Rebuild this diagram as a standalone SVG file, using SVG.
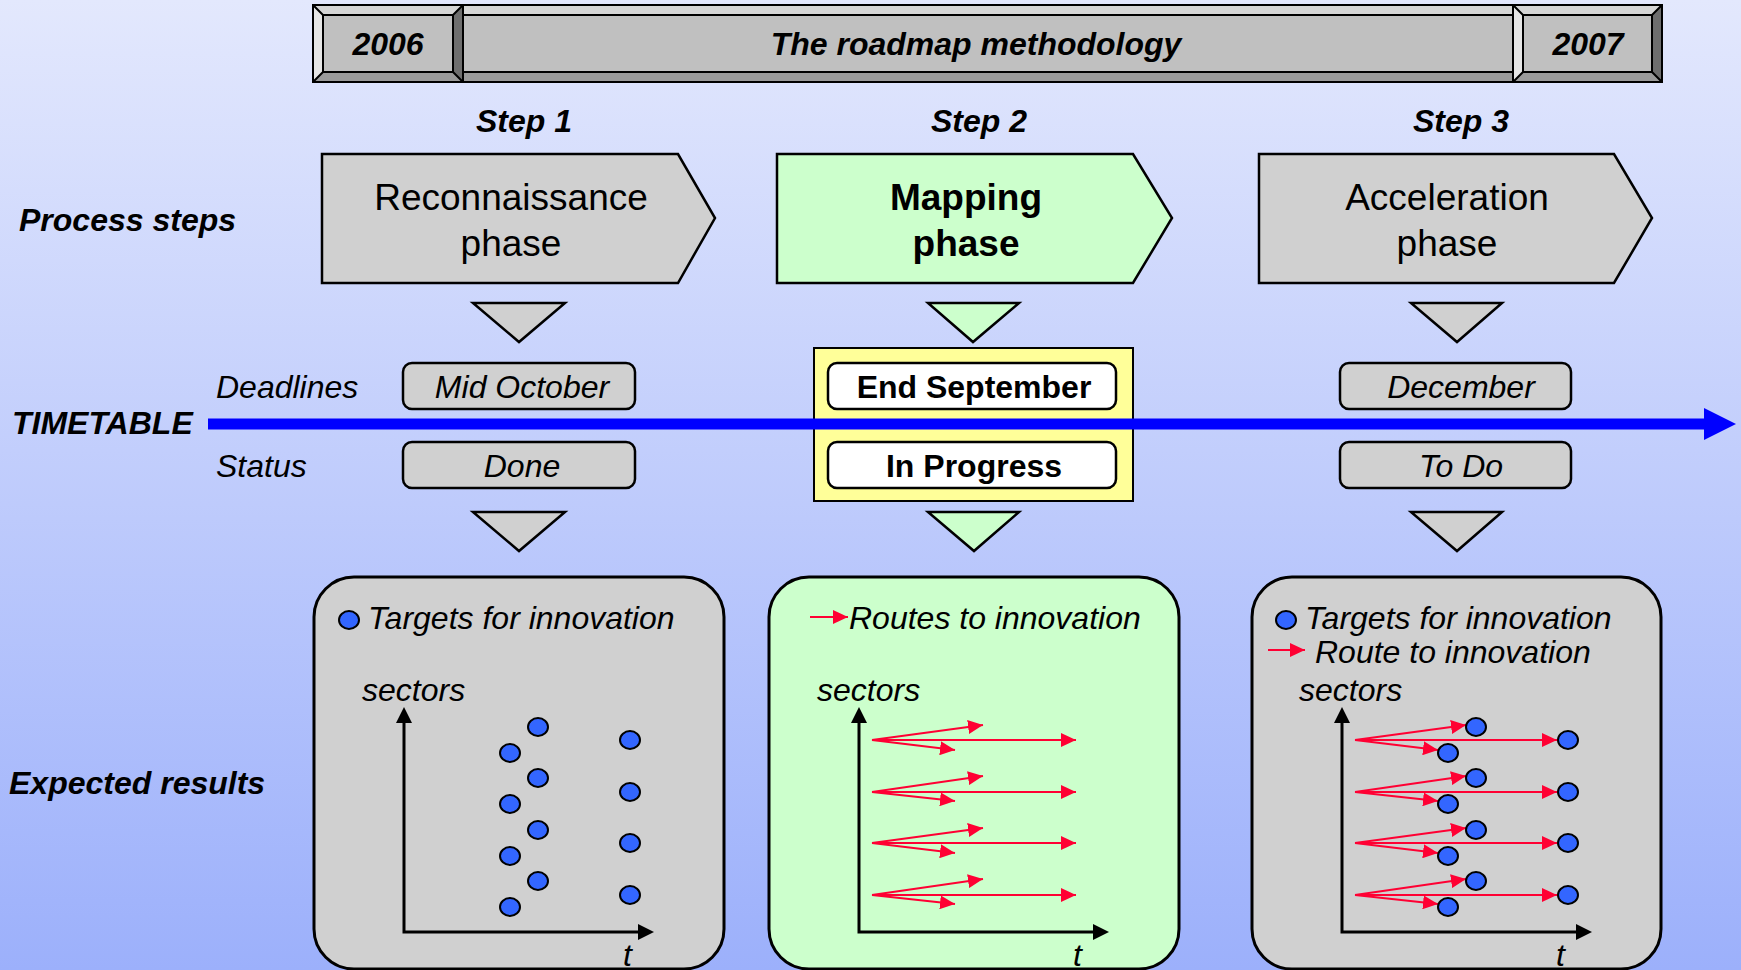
<svg xmlns="http://www.w3.org/2000/svg" width="1741" height="970" viewBox="0 0 1741 970">
<defs>
<linearGradient id="bg" x1="0" y1="0" x2="0" y2="1">
<stop offset="0" stop-color="#e3e8fd"/>
<stop offset="1" stop-color="#9cb0fb"/>
</linearGradient>
<marker id="ra" markerUnits="userSpaceOnUse" markerWidth="16" markerHeight="14" refX="15" refY="7" orient="auto">
<path d="M0,0 L15,7 L0,14 z" fill="#ff0033"/>
</marker>
</defs>
<style>
text{font-family:"Liberation Sans",Arial,sans-serif;fill:#000}
.bi{font-weight:bold;font-style:italic;font-size:32px}
.it{font-style:italic;font-size:32px}
.b{font-weight:bold;font-size:32px}
.ph{font-size:37px}
.phb{font-size:37px;font-weight:bold}
.gray{fill:#d0d0d0;stroke:#000;stroke-width:2.5}
.green{fill:#ccffcc;stroke:#000;stroke-width:2.5}
.tri{stroke:#000;stroke-width:2.5}
.bx{stroke:#000;stroke-width:2.5}
.res{stroke:#000;stroke-width:3}
.bl{fill:#e6e6e6}.bt{fill:#d6d6d6}.br{fill:#6e6e6e}.bb{fill:#9a9a9a}.bm{fill:#c0c0c0}
.bev{stroke:#000;stroke-width:2;fill:none}
.dot{fill:#3366ff;stroke:#000;stroke-width:2}
.axis{stroke:#000;stroke-width:3;fill:none}
.route{stroke:#ff0033;stroke-width:1.8;fill:none}
</style>
<rect x="0" y="0" width="1741" height="970" fill="url(#bg)"/>

<g id="title-bar">
<rect x="463" y="5" width="1050" height="77" class="bm"/>
<polygon points="463,5 1513,5 1513,15 463,15" class="bt"/>
<polygon points="463,72 1513,72 1513,82 463,82" class="bb"/>
<path d="M463,5 H1513 M463,15 H1513 M463,72 H1513 M463,82 H1513" class="bev"/>
<text x="976" y="55" class="bi" text-anchor="middle">The roadmap methodology</text>
</g>
<g id="year-2006">
<rect x="313" y="5" width="150" height="77" class="bm"/>
<polygon points="313,5 463,5 453,15 323,15" class="bt"/>
<polygon points="313,5 323,15 323,72 313,82" class="bl"/>
<polygon points="463,5 463,82 453,72 453,15" class="br"/>
<polygon points="313,82 463,82 453,72 323,72" class="bb"/>
<rect x="313" y="5" width="150" height="77" class="bev"/>
<rect x="323" y="15" width="130" height="57" class="bev"/>
<path d="M313,5 L323,15 M463,5 L453,15 M313,82 L323,72 M463,82 L453,72" class="bev"/>
<text x="388" y="55" class="bi" text-anchor="middle">2006</text>
</g>
<g id="year-2007">
<rect x="1513" y="5" width="149" height="77" class="bm"/>
<polygon points="1513,5 1662,5 1652,15 1523,15" class="bt"/>
<polygon points="1513,5 1523,15 1523,72 1513,82" class="bl"/>
<polygon points="1662,5 1662,82 1652,72 1652,15" class="br"/>
<polygon points="1513,82 1662,82 1652,72 1523,72" class="bb"/>
<rect x="1513" y="5" width="149" height="77" class="bev"/>
<rect x="1523" y="15" width="129" height="57" class="bev"/>
<path d="M1513,5 L1523,15 M1662,5 L1652,15 M1513,82 L1523,72 M1662,82 L1652,72" class="bev"/>
<text x="1588" y="55" class="bi" text-anchor="middle">2007</text>
</g>

<g id="row-labels">
<text x="19" y="231" class="bi">Process steps</text>
<text x="12" y="434" class="bi">TIMETABLE</text>
<text x="216" y="398" class="it">Deadlines</text>
<text x="216" y="477" class="it">Status</text>
<text x="9" y="794" class="bi">Expected results</text>
</g>

<g id="step-labels">
<text x="524" y="132" class="bi" text-anchor="middle">Step 1</text>
<text x="979" y="132" class="bi" text-anchor="middle">Step 2</text>
<text x="1461" y="132" class="bi" text-anchor="middle">Step 3</text>
</g>

<g id="step1-phase">
<polygon points="322,154 678,154 715,218 678,283 322,283" class="gray"/>
<text x="511" y="210" class="ph" text-anchor="middle">Reconnaissance</text>
<text x="511" y="256" class="ph" text-anchor="middle">phase</text>
</g>
<g id="step2-phase">
<polygon points="777,154 1133,154 1172,218 1133,283 777,283" class="green"/>
<text x="966" y="210" class="phb" text-anchor="middle">Mapping</text>
<text x="966" y="256" class="phb" text-anchor="middle">phase</text>
</g>
<g id="step3-phase">
<polygon points="1259,154 1614,154 1652,218 1614,283 1259,283" class="gray"/>
<text x="1447" y="210" class="ph" text-anchor="middle">Acceleration</text>
<text x="1447" y="256" class="ph" text-anchor="middle">phase</text>
</g>

<g id="step2-highlight">
<rect x="814" y="348" width="319" height="153" fill="#ffff99" stroke="#000" stroke-width="2"/>
</g>

<g id="connectors">
<polygon points="473,303 565,303 519,342" class="tri" fill="#d0d0d0"/>
<polygon points="928,303 1019,303 973,342" class="tri" fill="#ccffcc"/>
<polygon points="1411,303 1502,303 1457,342" class="tri" fill="#d0d0d0"/>
<polygon points="473,512 565,512 519,551" class="tri" fill="#d0d0d0"/>
<polygon points="928,512 1019,512 974,551" class="tri" fill="#ccffcc"/>
<polygon points="1411,512 1502,512 1457,551" class="tri" fill="#d0d0d0"/>
<line x1="208" y1="424" x2="1706" y2="424" stroke="#0000ff" stroke-width="11"/>
<polygon points="1704,408 1736,424 1704,440" fill="#0000ff"/>
</g>

<g id="step1-deadline">
<rect x="403" y="363" width="232" height="46" rx="9" class="bx" fill="#d0d0d0"/>
<text x="522" y="398" class="it" text-anchor="middle">Mid October</text>
</g>
<g id="step1-status">
<rect x="403" y="442" width="232" height="46" rx="9" class="bx" fill="#d0d0d0"/>
<text x="522" y="477" class="it" text-anchor="middle">Done</text>
</g>
<g id="step2-deadline">
<rect x="828" y="363" width="288" height="46" rx="9" class="bx" fill="#ffffff"/>
<text x="974" y="398" class="b" text-anchor="middle">End September</text>
</g>
<g id="step2-status">
<rect x="828" y="442" width="288" height="46" rx="9" class="bx" fill="#ffffff"/>
<text x="974" y="477" class="b" text-anchor="middle">In Progress</text>
</g>
<g id="step3-deadline">
<rect x="1340" y="363" width="231" height="46" rx="9" class="bx" fill="#d0d0d0"/>
<text x="1461" y="398" class="it" text-anchor="middle">December</text>
</g>
<g id="step3-status">
<rect x="1340" y="442" width="231" height="46" rx="9" class="bx" fill="#d0d0d0"/>
<text x="1461" y="477" class="it" text-anchor="middle">To Do</text>
</g>

<g id="step1-results">
<rect x="314" y="577" width="410" height="392" rx="40" class="res" fill="#d0d0d0"/>
<ellipse cx="349" cy="620" rx="10" ry="9" class="dot"/>
<text x="368" y="629" class="it">Targets for innovation</text>
<text x="362" y="701" class="it">sectors</text>
<polyline points="404,722 404,932 638,932" class="axis"/>
<polygon points="404,707 396,723 412,723" fill="#000"/>
<polygon points="654,932 638,924 638,940" fill="#000"/>
<text x="623" y="966" class="it">t</text>
<ellipse cx="510" cy="753" rx="10" ry="9" class="dot"/>
<ellipse cx="510" cy="804" rx="10" ry="9" class="dot"/>
<ellipse cx="510" cy="856" rx="10" ry="9" class="dot"/>
<ellipse cx="510" cy="907" rx="10" ry="9" class="dot"/>
<ellipse cx="538" cy="727" rx="10" ry="9" class="dot"/>
<ellipse cx="538" cy="778" rx="10" ry="9" class="dot"/>
<ellipse cx="538" cy="830" rx="10" ry="9" class="dot"/>
<ellipse cx="538" cy="881" rx="10" ry="9" class="dot"/>
<ellipse cx="630" cy="740" rx="10" ry="9" class="dot"/>
<ellipse cx="630" cy="792" rx="10" ry="9" class="dot"/>
<ellipse cx="630" cy="843" rx="10" ry="9" class="dot"/>
<ellipse cx="630" cy="895" rx="10" ry="9" class="dot"/>
</g>

<g id="step2-results">
<rect x="769" y="577" width="410" height="392" rx="40" class="res" fill="#ccffcc"/>
<line x1="810" y1="617" x2="848" y2="617" class="route" marker-end="url(#ra)"/>
<text x="849" y="629" class="it">Routes to innovation</text>
<text x="817" y="701" class="it">sectors</text>
<polyline points="859,722 859,932 1093,932" class="axis"/>
<polygon points="859,707 851,723 867,723" fill="#000"/>
<polygon points="1109,932 1093,924 1093,940" fill="#000"/>
<text x="1073" y="966" class="it">t</text>
<line x1="872" y1="740" x2="983" y2="725" class="route" marker-end="url(#ra)"/>
<line x1="872" y1="740" x2="955" y2="750" class="route" marker-end="url(#ra)"/>
<line x1="872" y1="740" x2="1076" y2="740" class="route" marker-end="url(#ra)"/>
<line x1="872" y1="792" x2="983" y2="776" class="route" marker-end="url(#ra)"/>
<line x1="872" y1="792" x2="955" y2="801" class="route" marker-end="url(#ra)"/>
<line x1="872" y1="792" x2="1076" y2="792" class="route" marker-end="url(#ra)"/>
<line x1="872" y1="843" x2="983" y2="828" class="route" marker-end="url(#ra)"/>
<line x1="872" y1="843" x2="955" y2="853" class="route" marker-end="url(#ra)"/>
<line x1="872" y1="843" x2="1076" y2="843" class="route" marker-end="url(#ra)"/>
<line x1="872" y1="895" x2="983" y2="879" class="route" marker-end="url(#ra)"/>
<line x1="872" y1="895" x2="955" y2="904" class="route" marker-end="url(#ra)"/>
<line x1="872" y1="895" x2="1076" y2="895" class="route" marker-end="url(#ra)"/>
</g>

<g id="step3-results">
<rect x="1252" y="577" width="409" height="392" rx="40" class="res" fill="#d0d0d0"/>
<ellipse cx="1286" cy="620" rx="10" ry="9" class="dot"/>
<text x="1305" y="629" class="it">Targets for innovation</text>
<line x1="1268" y1="650" x2="1305" y2="650" class="route" marker-end="url(#ra)"/>
<text x="1315" y="663" class="it">Route to innovation</text>
<text x="1299" y="701" class="it">sectors</text>
<polyline points="1342,722 1342,932 1576,932" class="axis"/>
<polygon points="1342,707 1334,723 1350,723" fill="#000"/>
<polygon points="1592,932 1576,924 1576,940" fill="#000"/>
<text x="1556" y="966" class="it">t</text>
<line x1="1355" y1="740" x2="1466" y2="725" class="route" marker-end="url(#ra)"/>
<line x1="1355" y1="740" x2="1438" y2="750" class="route" marker-end="url(#ra)"/>
<line x1="1355" y1="740" x2="1557" y2="740" class="route" marker-end="url(#ra)"/>
<line x1="1355" y1="792" x2="1466" y2="776" class="route" marker-end="url(#ra)"/>
<line x1="1355" y1="792" x2="1438" y2="801" class="route" marker-end="url(#ra)"/>
<line x1="1355" y1="792" x2="1557" y2="792" class="route" marker-end="url(#ra)"/>
<line x1="1355" y1="843" x2="1466" y2="828" class="route" marker-end="url(#ra)"/>
<line x1="1355" y1="843" x2="1438" y2="853" class="route" marker-end="url(#ra)"/>
<line x1="1355" y1="843" x2="1557" y2="843" class="route" marker-end="url(#ra)"/>
<line x1="1355" y1="895" x2="1466" y2="879" class="route" marker-end="url(#ra)"/>
<line x1="1355" y1="895" x2="1438" y2="904" class="route" marker-end="url(#ra)"/>
<line x1="1355" y1="895" x2="1557" y2="895" class="route" marker-end="url(#ra)"/>
<ellipse cx="1448" cy="753" rx="10" ry="9" class="dot"/>
<ellipse cx="1448" cy="804" rx="10" ry="9" class="dot"/>
<ellipse cx="1448" cy="856" rx="10" ry="9" class="dot"/>
<ellipse cx="1448" cy="907" rx="10" ry="9" class="dot"/>
<ellipse cx="1476" cy="727" rx="10" ry="9" class="dot"/>
<ellipse cx="1476" cy="778" rx="10" ry="9" class="dot"/>
<ellipse cx="1476" cy="830" rx="10" ry="9" class="dot"/>
<ellipse cx="1476" cy="881" rx="10" ry="9" class="dot"/>
<ellipse cx="1568" cy="740" rx="10" ry="9" class="dot"/>
<ellipse cx="1568" cy="792" rx="10" ry="9" class="dot"/>
<ellipse cx="1568" cy="843" rx="10" ry="9" class="dot"/>
<ellipse cx="1568" cy="895" rx="10" ry="9" class="dot"/>
</g>
</svg>
